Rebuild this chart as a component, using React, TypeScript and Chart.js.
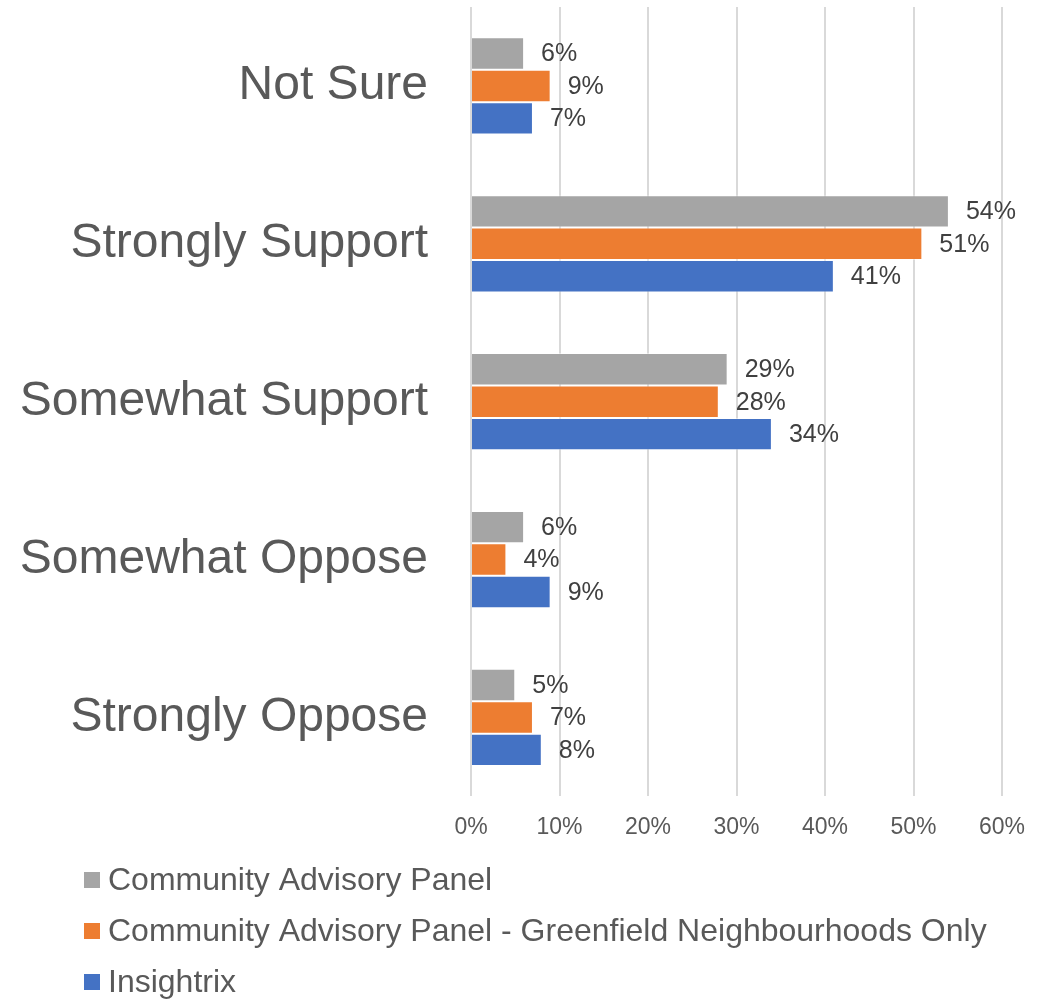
import React, { useEffect, useRef } from "react";
import { Chart, registerables } from "chart.js";

Chart.register(...registerables);

const categories = ["Not Sure", "Strongly Support", "Somewhat Support", "Somewhat Oppose", "Strongly Oppose"];
const seriesNames = [
  "Community Advisory Panel",
  "Community Advisory Panel - Greenfield Neighbourhoods Only",
  "Insightrix",
];
const capValues = [6, 54, 29, 6, 5];
const greenfieldValues = [9, 51, 28, 4, 7];
const insightrixValues = [7, 41, 34, 9, 8];
const xTicks = [0, 10, 20, 30, 40, 50, 60];
const colors = ["#A5A5A5", "#ED7D31", "#4472C4"];

const FONT = "'Liberation Sans', Arial, sans-serif";

const dataLabelPlugin = {
  id: "dataLabels",
  afterDatasetsDraw(chart: any) {
    const ctx = chart.ctx;
    ctx.save();
    ctx.font = `25px ${FONT}`;
    ctx.fillStyle = "#404040";
    ctx.textAlign = "left";
    ctx.textBaseline = "middle";
    chart.data.datasets.forEach((ds: any, i: number) => {
      const meta = chart.getDatasetMeta(i);
      meta.data.forEach((bar: any, j: number) => {
        ctx.fillText(`${ds.data[j]}%`, bar.x + 17, bar.y + 1);
      });
    });
    ctx.restore();
  },
};

const legendPlugin = {
  id: "customLegend",
  afterDraw(chart: any) {
    const ctx = chart.ctx;
    ctx.save();
    ctx.font = `32px ${FONT}`;
    ctx.textAlign = "left";
    ctx.textBaseline = "middle";
    chart.data.datasets.forEach((ds: any, i: number) => {
      const y = 880 + i * 51;
      ctx.fillStyle = ds.backgroundColor;
      ctx.fillRect(84, y - 8, 16, 16);
      ctx.fillStyle = "#595959";
      ctx.fillText(ds.label, 108, y + 1);
    });
    ctx.restore();
  },
};

export default function App() {
  const ref = useRef<HTMLCanvasElement>(null);
  useEffect(() => {
    document.body.style.margin = "0";
    const values = [capValues, greenfieldValues, insightrixValues];
    const chart = new Chart(ref.current!, {
      type: "bar",
      data: {
        labels: categories,
        datasets: seriesNames.map((name, i) => ({
          label: name,
          data: values[i],
          backgroundColor: colors[i],
          borderColor: "rgba(255,255,255,0.45)",
          borderWidth: 1,
          categoryPercentage: 0.616,
          barPercentage: 1,
        })),
      },
      options: {
        indexAxis: "y",
        animation: false,
        responsive: false,
        maintainAspectRatio: false,
        layout: { padding: { top: 7, right: 49, bottom: 141, left: 0 } },
        plugins: {
          legend: { display: false },
          tooltip: { enabled: false },
        },
        scales: {
          x: {
            min: 0,
            max: 60,
            afterBuildTicks: (scale: any) => {
              scale.ticks = xTicks.map((v) => ({ value: v }));
            },
            grid: { color: "#D9D9D9", lineWidth: 2, drawTicks: false },
            border: { display: false },
            ticks: {
              padding: 17,
              color: "#595959",
              font: { family: FONT, size: 23 },
              callback: (v: any) => `${v}%`,
            },
          },
          y: {
            grid: { display: false, drawTicks: false },
            border: { display: false },
            afterFit: (scale: any) => {
              scale.width = 471;
              scale.paddingTop = 0;
              scale.paddingBottom = 0;
            },
            ticks: {
              padding: 43,
              color: "#595959",
              font: { family: FONT, size: 48 },
            },
          },
        },
      },
      plugins: [dataLabelPlugin, legendPlugin],
    });
    return () => chart.destroy();
  }, []);
  return (
    <div style={{ width: 1051, height: 999, background: "#fff" }}>
      <canvas ref={ref} width={1051} height={999} />
    </div>
  );
}
